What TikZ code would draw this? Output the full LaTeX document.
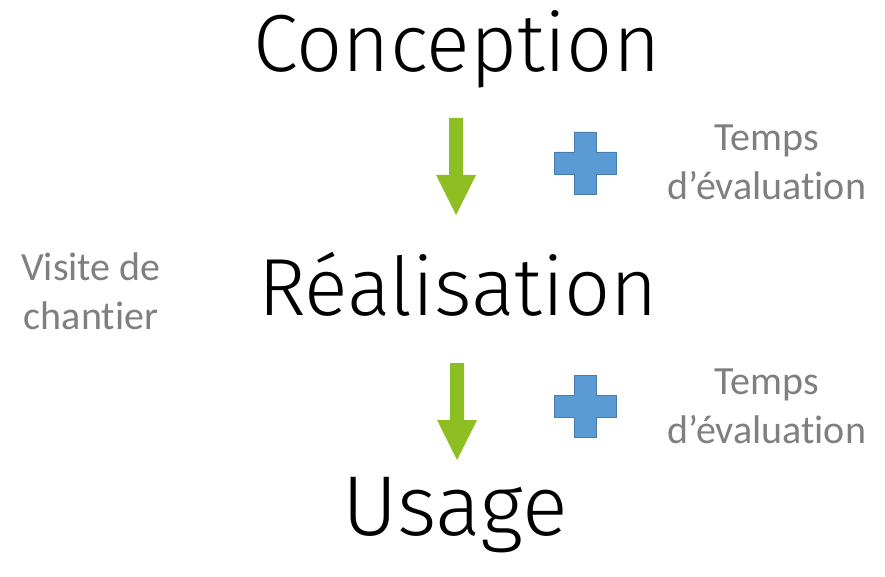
\documentclass[tikz,border=0pt]{standalone}
\usepackage{fontspec}
\setmainfont{Fira Sans Light}
\newfontfamily\calfont[Ligatures=NoCommon]{Carlito}
\definecolor{arrowgreen}{HTML}{8DBE22}
\definecolor{plusblue}{HTML}{5B9BD5}
\definecolor{notegray}{HTML}{7F7F7F}
\begin{document}
\begin{tikzpicture}[x=1pt,y=-1pt,
  stage/.style={font=\fontsize{81}{90}\selectfont, text=black, anchor=base, inner sep=0pt},
  note/.style={font=\calfont\fontsize{40}{49}\selectfont, text=notegray, align=center, inner sep=0pt},
  plus/.style={fill=plusblue, draw=plusblue!80!black, line width=0.6pt}]
\useasboundingbox (0,0) rectangle (885,577);
\node[stage] (c) at (457,72) {Conception};
\node[stage] (r) at (458,315) {Réalisation};
\node[stage, font=\fontsize{85}{90}\selectfont] (u) at (455,535) {Usage};
% arrows
\foreach \n/\cx/\top in {a1/456/118, a2/457/363} {
  \fill[arrowgreen] (\cx-7,\top) -- (\cx+7,\top) -- (\cx+7,\top+57) -- (\cx+20,\top+57)
     -- (\cx,\top+97) -- (\cx-20,\top+57) -- (\cx-7,\top+57) -- cycle;
}
% plus signs
\foreach \cx/\cy in {585/163, 585/406} {
  \filldraw[plus] (\cx-11,\cy-31) -- (\cx+11,\cy-31) -- (\cx+11,\cy-11) -- (\cx+31,\cy-11)
    -- (\cx+31,\cy+11) -- (\cx+11,\cy+11) -- (\cx+11,\cy+31) -- (\cx-11,\cy+31)
    -- (\cx-11,\cy+11) -- (\cx-31,\cy+11) -- (\cx-31,\cy-11) -- (\cx-11,\cy-11) -- cycle;
}
\node[note] (t1) at (767,162) {Temps\\d’évaluation};
\node[note] (t2) at (767,406) {Temps\\d’évaluation};
\node[note] (v) at (91,291) {Visite de\\chantier};
\end{tikzpicture}
\end{document}
